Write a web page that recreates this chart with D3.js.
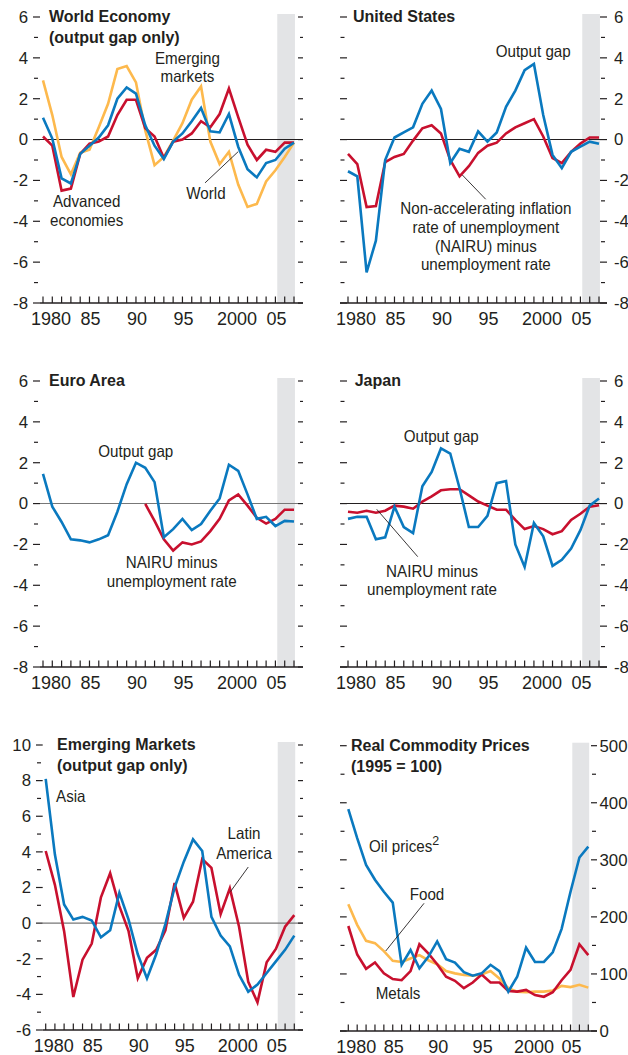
<!DOCTYPE html>
<html><head><meta charset="utf-8">
<script src="https://cdn.jsdelivr.net/npm/d3@7"></script>
<style>
body{margin:0;background:#fff}
svg{display:block}
text{font-family:"Liberation Sans",Arial,sans-serif;fill:#231f20}
</style></head>
<body><svg id="c" width="628" height="1055"></svg>
<script>
// ---------- DATA ----------
const years = [1980,1981,1982,1983,1984,1985,1986,1987,1988,1989,1990,1991,1992,1993,1994,1995,1996,1997,1998,1999,2000,2001,2002,2003,2004,2005,2006,2007];
const xTickYears = [1980,1985,1990,1995,2000,2005];
const xTickLabels = ["1980","85","90","95","2000","05"];
const gapTicks = [-8,-6,-4,-2,0,2,4,6];
const gapTickLabels = ["-8","-6","-4","-2","0","2","4","6"];
const gapMinor = [-7,-5,-3,-1,1,3,5];
const emTicks = [-6,-4,-2,0,2,4,6,8,10];
const emTickLabels = ["-6","-4","-2","0","2","4","6","8","10"];
const emMinor = [-5,-3,-1,1,3,5,7,9];
const comTicks = [0,100,200,300,400,500];
const comTickLabels = ["0","100","200","300","400","500"];
const comMinor = [50,150,250,350,450];

// World economy
const worldAdvanced = [0.15,-0.3,-2.5,-2.4,-0.7,-0.2,-0.1,0.15,1.2,1.95,1.95,0.55,0.15,-0.9,-0.1,0,0.3,0.9,0.6,1.25,2.5,1.1,-0.25,-1.0,-0.5,-0.6,-0.15,-0.15];
const worldWorld = [1.07,0.05,-1.9,-2.15,-0.7,-0.3,0.1,0.7,2.0,2.55,2.25,0.7,-0.3,-0.95,-0.1,0.3,0.9,1.55,0.4,0.35,1.25,-0.35,-1.45,-1.85,-1.15,-1.0,-0.45,-0.15];
const worldEmerging = [2.9,1.2,-0.85,-1.7,-0.65,-0.5,0.6,1.75,3.45,3.6,2.8,0.45,-1.25,-0.85,-0.05,0.8,1.95,2.6,-0.1,-1.2,-0.6,-2.2,-3.3,-3.15,-2.05,-1.5,-0.85,-0.15];
// United States
const usOutputGap = [-1.55,-1.8,-6.5,-4.95,-1.0,0.1,0.35,0.6,1.75,2.4,1.5,-1.15,-0.45,-0.6,0.4,-0.1,0.35,1.6,2.4,3.4,3.7,1.2,-0.75,-1.4,-0.6,-0.35,-0.1,-0.2];
const usNairu = [-0.7,-1.2,-3.3,-3.25,-1.1,-0.85,-0.7,-0.05,0.55,0.7,0.3,-1.0,-1.8,-1.3,-0.65,-0.3,-0.15,0.3,0.6,0.8,1.0,0.15,-0.9,-1.15,-0.6,-0.2,0.1,0.1];
// Euro area
const euroOutputGap = [1.45,-0.15,-0.9,-1.75,-1.8,-1.9,-1.75,-1.55,-0.4,0.95,2.0,1.75,1.05,-1.65,-1.25,-0.75,-1.3,-1.0,-0.35,0.25,1.9,1.6,0.45,-0.75,-0.65,-1.1,-0.85,-0.88];
const euroNairu = [null,null,null,null,null,null,null,null,null,null,null,-0.02,-0.85,-1.75,-2.3,-1.9,-2.0,-1.85,-1.35,-0.75,0.15,0.45,-0.1,-0.7,-0.98,-0.75,-0.3,-0.3];
// Japan
const japanOutputGap = [-0.75,-0.65,-0.65,-1.75,-1.65,-0.15,-1.15,-1.45,0.85,1.55,2.7,2.45,0.75,-1.15,-1.15,-0.6,1.0,1.1,-2.0,-3.1,-0.95,-1.6,-3.05,-2.75,-2.2,-1.3,-0.1,0.25];
const japanNairu = [-0.4,-0.45,-0.35,-0.45,-0.35,-0.1,-0.15,-0.25,0.1,0.35,0.65,0.7,0.7,0.4,0.1,-0.1,-0.3,-0.3,-0.8,-1.25,-1.1,-1.25,-1.5,-1.35,-0.8,-0.5,-0.15,-0.08];
// Emerging markets
const emAsia = [8.1,3.85,1.05,0.2,0.35,0.15,-0.8,-0.4,1.7,0.2,-1.75,-3.1,-1.75,-0.05,2.0,3.45,4.7,4.05,0.35,-0.7,-1.3,-2.9,-3.85,-3.45,-2.8,-2.15,-1.5,-0.7];
const emLatin = [4.05,2.15,-0.45,-4.15,-2.05,-1.15,1.45,2.8,0.95,-0.45,-3.1,-1.95,-1.5,-0.4,2.25,0.3,1.2,3.6,3.1,0.5,1.95,-0.2,-3.3,-4.45,-2.2,-1.45,-0.2,0.45];
// Real commodity prices (1995 = 100)
const oilPrices = [389,338,291,265,244,225,116,142,110,130,157,126,120,103,97,101,116,105,69,95,146,121,121,138,179,244,304,323];
const foodPrices = [222,186,158,154,140,123,121,127,133,124,117,105,101,98,97,99,105,92,75,69,68,69,69,71,79,77,81,76];
const metalPrices = [184,134,109,120,101,91,89,105,152,136,117,95,88,75,85,99,85,85,70,69,72,63,60,68,89,107,152,133];

// ---------- STYLE ----------
const C = {blue:"#0a79bf", red:"#c8102e", yellow:"#fdb94d", shade:"#e3e4e6", ink:"#231f20"};
const shadeFrom = 2005.2, shadeTo = 2007.1;
const ANN = 16.5, ANN_SX = 0.92;

const svg = d3.select("#c");

function scaledText(g, x, y, str, size, sx, anchor, weight) {
  return g.append("text")
    .attr("transform", `translate(${x},${y}) scale(${sx},1)`)
    .attr("text-anchor", anchor || "start")
    .attr("font-size", size)
    .attr("font-weight", weight || "normal")
    .text(str);
}

function panel(cfg) {
  const g = svg.append("g");
  const x = d3.scaleLinear().domain([1980, 2007]).range(cfg.xr);
  const y = d3.scaleLinear().domain(cfg.yd).range(cfg.yr);
  const yBase = y(cfg.yd[0]), yTop = y(cfg.yd[1]);

  g.append("rect")
    .attr("x", x(shadeFrom)).attr("width", x(shadeTo) - x(shadeFrom))
    .attr("y", yTop - 3).attr("height", yBase - yTop + 3)
    .attr("fill", C.shade);

  if (cfg.zero) {
    g.append("line").attr("x1", cfg.axL).attr("x2", cfg.axR)
      .attr("y1", y(0)).attr("y2", y(0))
      .attr("stroke", cfg.zeroColor).attr("stroke-width", 1.1);
  }
  // baseline
  g.append("line").attr("x1", cfg.axL).attr("x2", cfg.axR)
    .attr("y1", yBase).attr("y2", yBase)
    .attr("stroke", C.ink).attr("stroke-width", 1.3);
  // year ticks
  g.selectAll(".xt").data(years).enter().append("line")
    .attr("x1", d => x(d)).attr("x2", d => x(d))
    .attr("y1", yBase).attr("y2", yBase - 6.5)
    .attr("stroke", C.ink).attr("stroke-width", 1.2);
  // year labels
  xTickYears.forEach((yr, i) => {
    const lab = xTickLabels[i];
    const dx = lab.length === 4 ? 8 : 1;
    scaledText(g, x(yr) + dx, yBase + 21.5, lab, 18, 1.0, "middle");
  });
  // y ticks
  const tk = (vals, xs) => vals.forEach(v => g.append("line")
      .attr("x1", xs[0]).attr("x2", xs[1]).attr("y1", y(v)).attr("y2", y(v))
      .attr("stroke", C.ink).attr("stroke-width", 1.2));
  tk(cfg.major, cfg.tL[0]); tk(cfg.minor, cfg.tL[1]);
  tk(cfg.major, cfg.tR[0]); tk(cfg.minor, cfg.tR[1]);
  cfg.major.forEach((v, i) => {
    scaledText(g, cfg.labX, y(v) + 5.8, cfg.majorLabels[i], 16, 1.05,
      cfg.labSide === "left" ? "end" : "start");
  });
  // series
  cfg.series.forEach(s => {
    const line = d3.line().defined(d => d != null)
      .x((d, i) => x(years[i])).y(d => y(d));
    g.append("path").attr("d", line(s.values))
      .attr("fill", "none").attr("stroke", s.color)
      .attr("stroke-width", 2.6).attr("stroke-linejoin", "miter");
  });
  // title
  cfg.title.forEach((t, i) => {
    g.append("text").attr("x", cfg.xr[0] + cfg.titleDx).attr("y", yTop + cfg.titleDy + i * 21)
      .attr("font-size", 16).attr("font-weight", "bold").text(t);
  });
  // leader lines
  (cfg.leaders || []).forEach(l => {
    g.append("line").attr("x1", x(l[0])).attr("y1", y(l[1]))
      .attr("x2", x(l[2])).attr("y2", y(l[3]))
      .attr("stroke", C.ink).attr("stroke-width", 0.9);
  });
  // annotations
  (cfg.notes || []).forEach(n => {
    n.lines.forEach((str, i) => {
      const t = scaledText(g, x(n.yr), y(n.v) + i * n.lh, str, ANN, ANN_SX, n.anchor || "middle");
      if (n.sup && i === 0) {
        t.append("tspan").attr("font-size", 13.5).attr("dy", -7).text(n.sup);
      }
    });
  });
}

const gapL = {yd:[-8,6], major:gapTicks, majorLabels:gapTickLabels, minor:gapMinor};

panel(Object.assign({}, gapL, {
  xr:[43,294], yr:[303,17], axL:40, axR:303,
  tL:[[33,40],[34,38]], tR:[[298,303],[300,303]], labSide:"left", labX:28,
  zero:true, zeroColor:"#231f20",
  title:["World Economy","(output gap only)"], titleDx:6, titleDy:5,
  series:[{values:worldEmerging,color:C.yellow},{values:worldAdvanced,color:C.red},{values:worldWorld,color:C.blue}],
  leaders:[[1997.43,-2.12,2001.0,-0.59]],
  notes:[
    {yr:1995.54, v:3.72, lines:["Emerging","markets"], lh:18.6},
    {yr:1997.53, v:-2.91, lines:["World"], lh:0},
    {yr:1984.7, v:-3.30, lines:["Advanced","economies"], lh:19}
  ]
}));

panel(Object.assign({}, gapL, {
  xr:[348,599], yr:[303,17], axL:340, axR:607,
  tL:[[340,347],[340.5,344.5]], tR:[[600,607],[601,605]], labSide:"right", labX:614,
  zero:true, zeroColor:"#231f20",
  title:["United States"], titleDx:5, titleDy:5,
  series:[{values:usNairu,color:C.red},{values:usOutputGap,color:C.blue}],
  leaders:[[1992.29,-1.73,1994.81,-2.92]],
  notes:[
    {yr:1999.92, v:4.06, lines:["Output gap"], lh:0},
    {yr:1994.83, v:-3.66, lines:["Non-accelerating inflation","rate of unemployment","(NAIRU) minus","unemployment rate"], lh:18.6}
  ]
}));

panel(Object.assign({}, gapL, {
  xr:[43,294], yr:[667,381], axL:40, axR:303,
  tL:[[33,40],[34,38]], tR:[[298,303],[300,303]], labSide:"left", labX:28,
  zero:true, zeroColor:"#777",
  title:["Euro Area"], titleDx:6, titleDy:4.7,
  series:[{values:euroNairu,color:C.red},{values:euroOutputGap,color:C.blue}],
  notes:[
    {yr:1989.98, v:2.30, lines:["Output gap"], lh:0},
    {yr:1993.84, v:-3.14, lines:["NAIRU minus","unemployment rate"], lh:19}
  ]
}));

panel(Object.assign({}, gapL, {
  xr:[348,599], yr:[667,381], axL:340, axR:607,
  tL:[[340,347],[340.5,344.5]], tR:[[600,607],[601,605]], labSide:"right", labX:614,
  zero:true, zeroColor:"#231f20",
  title:["Japan"], titleDx:6.7, titleDy:4.7,
  series:[{values:japanNairu,color:C.red},{values:japanOutputGap,color:C.blue}],
  leaders:[[1983.09,-0.28,1987.5,-2.6]],
  notes:[
    {yr:1990.03, v:3.0, lines:["Output gap"], lh:0},
    {yr:1989.04, v:-3.58, lines:["NAIRU minus","unemployment rate"], lh:18.6}
  ]
}));

panel({
  xr:[45.7,294.3], yd:[-6,10], yr:[1030,745], axL:42.7, axR:303,
  major:emTicks, majorLabels:emTickLabels, minor:emMinor,
  tL:[[36,42.7],[37,41]], tR:[[298,303],[300,303]], labSide:"left", labX:31,
  zero:true, zeroColor:"#777",
  title:["Emerging Markets","(output gap only)"], titleDx:11.3, titleDy:5,
  series:[{values:emLatin,color:C.red},{values:emAsia,color:C.blue}],
  leaders:[[2002.0,3.15,2000.07,1.77]],
  notes:[
    {yr:1981.12, v:6.78, lines:["Asia"], lh:0, anchor:"start"},
    {yr:2001.54, v:4.72, lines:["Latin","America"], lh:20}
  ]
});

panel({
  xr:[348.3,588.3], yd:[0,500], yr:[1031,745.7], axL:340, axR:597,
  major:comTicks, majorLabels:comTickLabels, minor:comMinor,
  tL:[[340,346.7],[340.5,344.5]], tR:[[591,597],[592,596]], labSide:"right", labX:599.5,
  zero:false,
  title:["Real Commodity Prices","(1995 = 100)"], titleDx:2.7, titleDy:5.3,
  series:[{values:foodPrices,color:C.yellow},{values:metalPrices,color:C.red},{values:oilPrices,color:C.blue}],
  leaders:[[1988.52,223.8,1984.21,140.2]],
  notes:[
    {yr:1982.33, v:313.2, lines:["Oil prices"], lh:0, anchor:"start", sup:"2"},
    {yr:1988.85, v:229.6, lines:["Food"], lh:0},
    {yr:1985.59, v:56.1, lines:["Metals"], lh:0}
  ]
});
</script>
</body></html>
